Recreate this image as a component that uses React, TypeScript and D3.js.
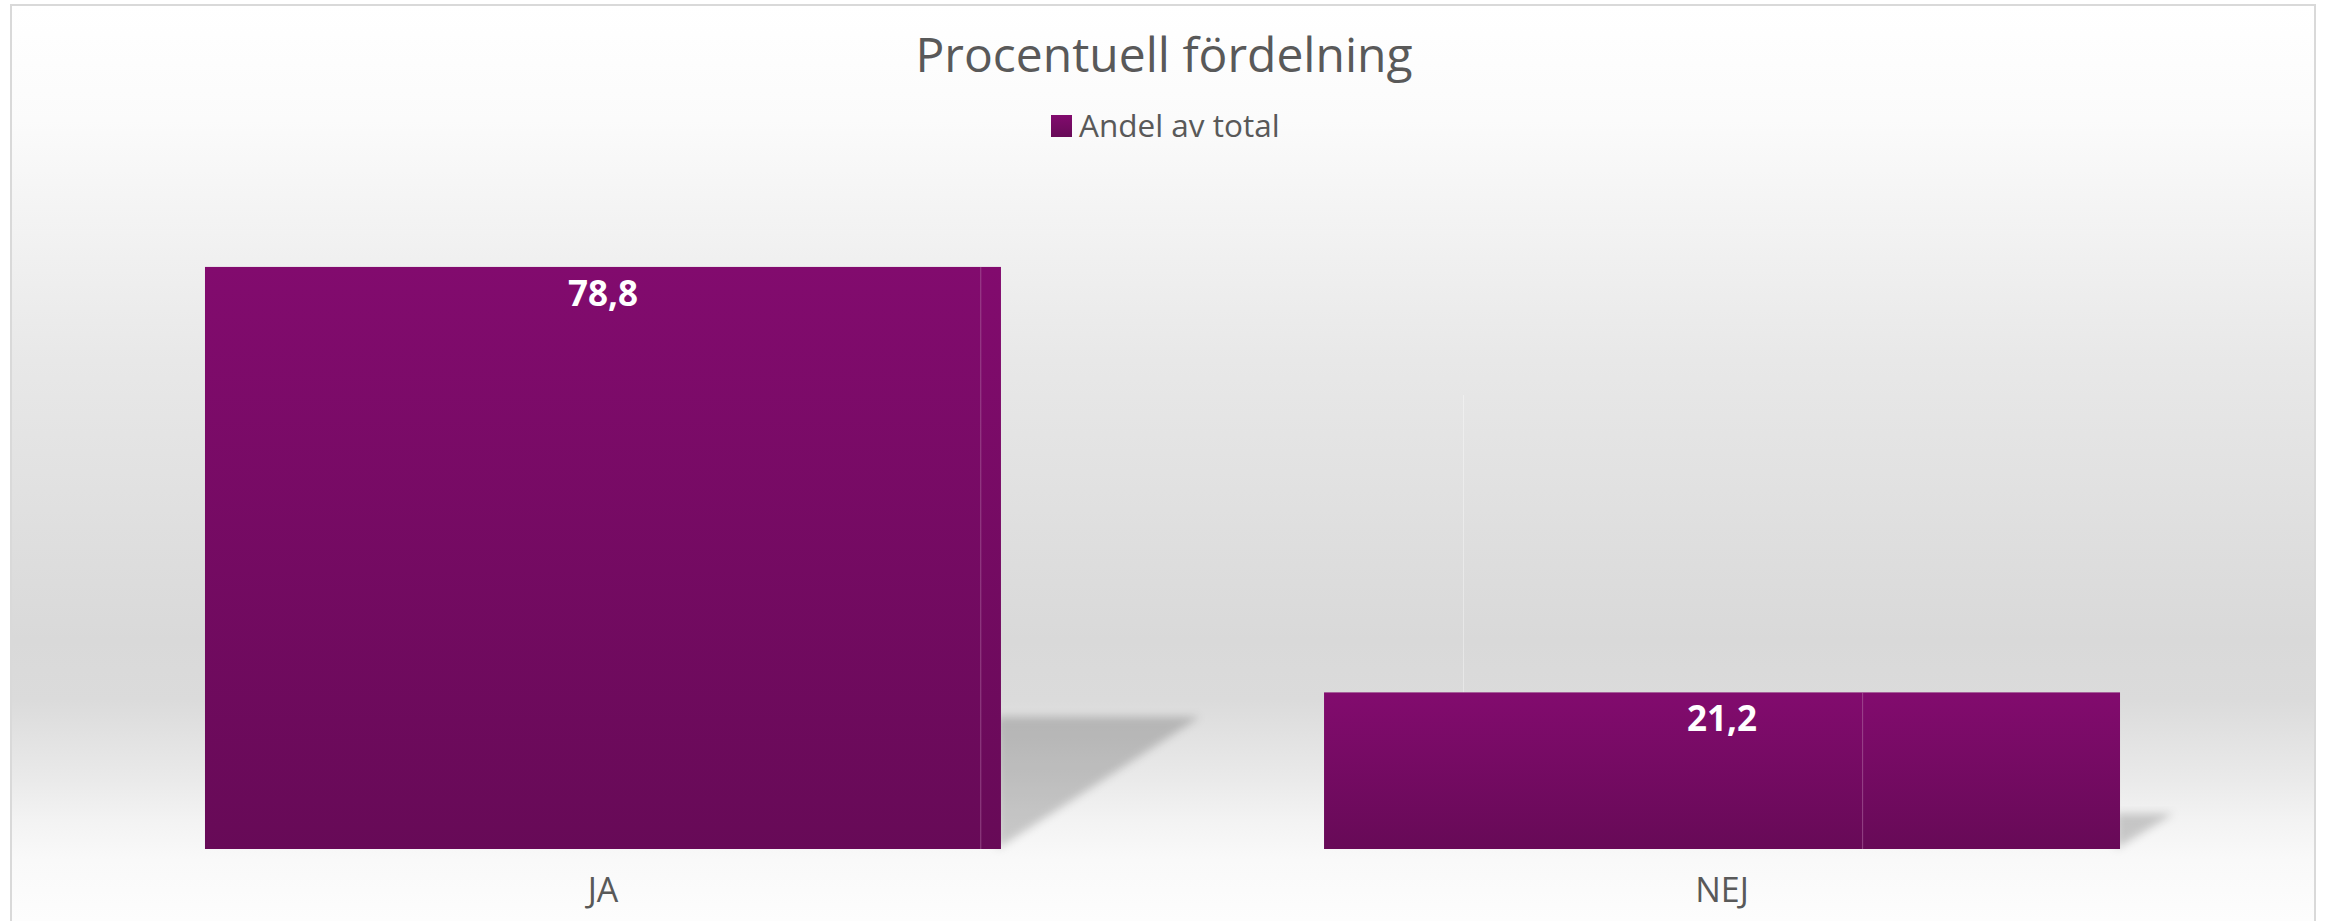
import React from "react";
import * as d3 from "d3";

const categories: string[] = ["JA", "NEJ"];
const values: number[] = [78.8, 21.2];
const valueLabels: string[] = ["78,8", "21,2"];
const seriesName = "Andel av total";
const chartTitle = "Procentuell fördelning";

const W = 2325;
const H = 921;

export default function App() {
  const x = d3
    .scaleBand<string>()
    .domain(categories)
    .range([43.5, 2281.5])
    .paddingInner(0.2887)
    .paddingOuter(0.1443);
  const y = d3.scaleLinear().domain([0, 90]).range([849, 184.2]);

  const bgStops: [number, string][] = [
    [5, "#ffffff"],
    [120, "#fbfbfb"],
    [220, "#f3f3f3"],
    [360, "#e8e8e8"],
    [490, "#e1e1e1"],
    [640, "#d9d9d9"],
    [700, "#dbdbdb"],
    [780, "#eaeaea"],
    [820, "#f3f3f3"],
    [860, "#f9f9f9"],
    [921, "#fdfdfd"],
  ];
  const innerLineFrac = [0.974, 0.676];
  const font = "'Open Sans', 'Noto Sans', sans-serif";

  return (
    <div style={{ position: "absolute", left: 0, top: 0, width: W, height: H, overflow: "hidden" }}>
      <svg width={W} height={H} style={{ display: "block" }}>
        <defs>
          <linearGradient id="bg" gradientUnits="userSpaceOnUse" x1="0" y1="0" x2="0" y2={H}>
            {bgStops.map(([p, c], i) => (
              <stop key={i} offset={p / H} stopColor={c} />
            ))}
          </linearGradient>
          <linearGradient id="bar" x1="0" y1="0" x2="0" y2="1">
            <stop offset="0" stopColor="#820b6e" />
            <stop offset="1" stopColor="#670a57" />
          </linearGradient>
          <filter id="blur" x="-20%" y="-20%" width="140%" height="140%">
            <feGaussianBlur stdDeviation="4" />
          </filter>
        </defs>
        <rect x={0} y={0} width={W} height={H} fill="#ffffff" />
        <rect x={11} y={5} width={2304} height={940} fill="url(#bg)" stroke="#d9d9d9" strokeWidth={2} />

        <text x={1164} y={72} textAnchor="middle" fontFamily={font} fontSize={48} fill="#595959">
          {chartTitle}
        </text>
        <rect x={1051} y={115} width={21} height={22} fill="url(#bar)" />
        <text x={1079} y={137} fontFamily={font} fontSize={31.5} fill="#595959">
          {seriesName}
        </text>

        {/* faint vertical line */}
        <line x1={1463.5} x2={1463.5} y1={395} y2={y(values[1])} stroke="#ffffff" strokeOpacity={0.35} strokeWidth={1} />

        {categories.map((c, i) => {
          const bx = x(c)!;
          const bw = x.bandwidth();
          const top = y(values[i]);
          const bottom = y(0);
          const bh = bottom - top;
          const right = bx + bw;
          const shTop = bottom - 0.227 * bh;
          const shW = 0.342 * bh;
          return (
            <g key={c}>
              <path
                d={`M${right - 4},${shTop} L${right + shW},${shTop} L${right - 4},${bottom} Z`}
                fill="#000"
                fillOpacity={0.19}
                filter="url(#blur)"
              />
              <rect x={bx} y={top} width={bw} height={bh} fill="url(#bar)" />
              <line
                x1={bx + bw * innerLineFrac[i] + 0.5}
                x2={bx + bw * innerLineFrac[i] + 0.5}
                y1={top}
                y2={bottom}
                stroke="#b06aa4"
                strokeOpacity={0.6}
                strokeWidth={1}
              />
              <text
                x={bx + bw / 2}
                y={top + 39}
                textAnchor="middle"
                fontFamily={font}
                fontWeight={700}
                fontSize={35}
                fill="#ffffff"
              >
                {valueLabels[i]}
              </text>
              <text x={bx + bw / 2} y={902} textAnchor="middle" fontFamily={font} fontSize={34} fill="#595959">
                {c}
              </text>
            </g>
          );
        })}
      </svg>
    </div>
  );
}
